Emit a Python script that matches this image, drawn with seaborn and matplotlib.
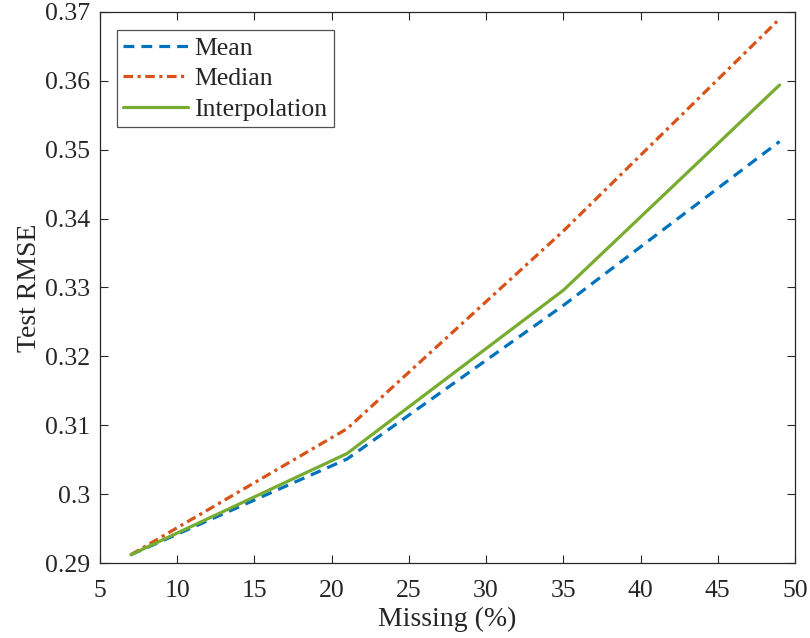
import matplotlib
matplotlib.use("Agg")
import matplotlib.pyplot as plt
import seaborn as sns
import pandas as pd

missing = [7, 21, 35, 49]
mean_rmse = [0.2912, 0.3051, 0.3274, 0.3512]
median_rmse = [0.2912, 0.3095, 0.3382, 0.3690]
interp_rmse = [0.2912, 0.3059, 0.3296, 0.3594]
series_names = ["Mean", "Median", "Interpolation"]
x_ticks = [5, 10, 15, 20, 25, 30, 35, 40, 45, 50]
y_ticks = [0.29, 0.30, 0.31, 0.32, 0.33, 0.34, 0.35, 0.36, 0.37]
y_tick_labels = ["0.29", "0.3", "0.31", "0.32", "0.33", "0.34", "0.35", "0.36", "0.37"]

sns.set_style("white")
plt.rcParams["font.family"] = ["Liberation Serif", "DejaVu Serif"]

fig = plt.figure(figsize=(8.1, 6.38), dpi=100)
ax = fig.add_axes([100 / 810, 1 - 563 / 638, 695 / 810, 551 / 638])

styles = {
    "Mean": dict(color="#0072BD", linestyle=(0, (3.4, 2.2))),
    "Median": dict(color="#D95319", linestyle=(0, (3.0, 1.4, 1.0, 1.4))),
    "Interpolation": dict(color="#77AC30", linestyle="-"),
}
values = {"Mean": mean_rmse, "Median": median_rmse, "Interpolation": interp_rmse}

for name in series_names:
    df = pd.DataFrame({"x": missing, "y": values[name]})
    sns.lineplot(data=df, x="x", y="y", ax=ax, label=name, linewidth=2.3,
                 **styles[name])

ax.set_xlim(5, 50)
ax.set_ylim(0.29, 0.37)
ax.set_xticks(x_ticks)
ax.set_xticklabels([str(t) for t in x_ticks])
ax.set_yticks(y_ticks)
ax.set_yticklabels(y_tick_labels)
ax.tick_params(direction="in", length=6, width=0.8, colors="#262626",
               labelsize=18.5, top=True, right=True, bottom=True, left=True,
               labelcolor="#262626")
ax.tick_params(axis="y", pad=7)
ax.tick_params(axis="x", pad=12)
for s in ax.spines.values():
    s.set_visible(True)
    s.set_color("#262626")
    s.set_linewidth(0.9)

ax.set_xlabel("Missing (%)", fontsize=20, color="#262626", labelpad=4)
ax.set_ylabel("Test RMSE", fontsize=20, color="#262626", labelpad=2)

leg = ax.legend(loc="upper left", bbox_to_anchor=(0.0245, 0.967), fontsize=18.5,
                frameon=True, fancybox=False, edgecolor="#262626",
                handlelength=2.5, handletextpad=0.25, borderpad=0.25,
                labelspacing=0.3, borderaxespad=0)
leg.get_frame().set_linewidth(0.9)

fig.savefig("out.png", dpi=100)
